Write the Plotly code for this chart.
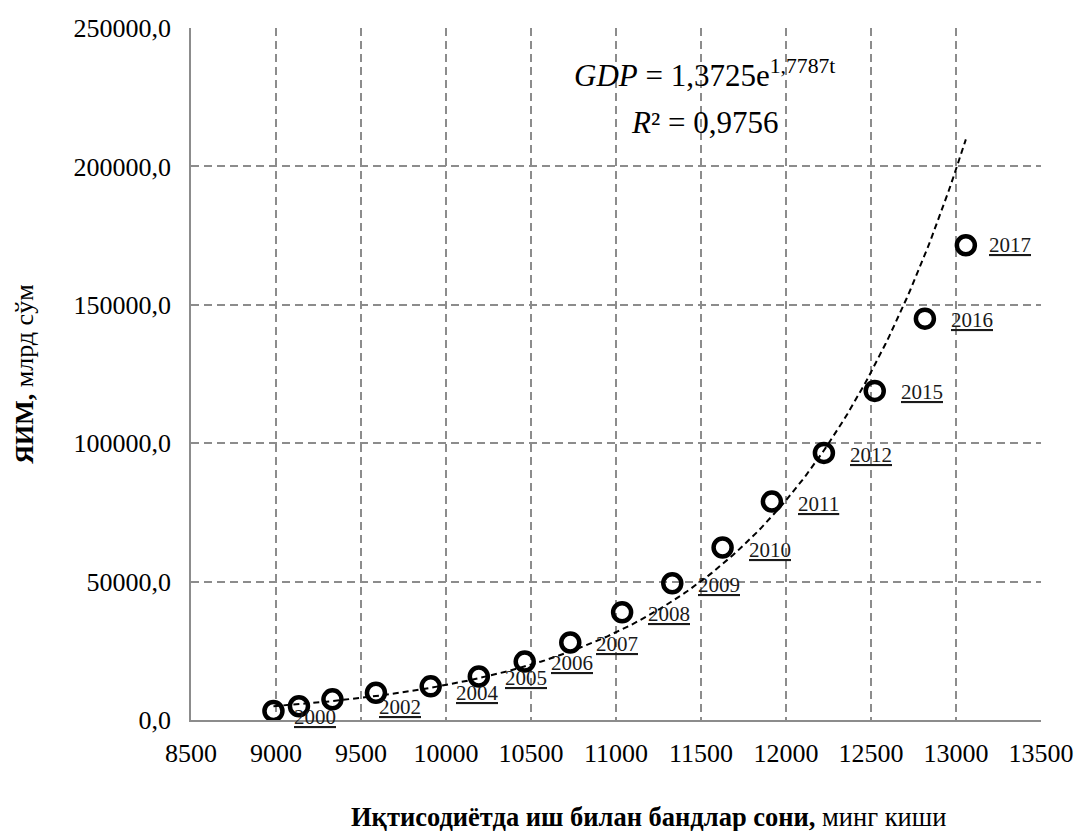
import numpy as np
import plotly.graph_objects as go

# Data
employment = [8985, 9135, 9332, 9588, 9910, 10193, 10463, 10731, 11036, 11331,
              11627, 11917, 12223, 12522, 12817, 13058]
gdp = [3256, 4950, 7460, 9850, 12150, 15700, 21100, 28000, 38950, 49380,
       62300, 78900, 96500, 118900, 145000, 171500]
point_labels = ["2000", "", "2002", "", "2004", "2005", "2006", "2007", "2008",
                "2009", "2010", "2011", "2012", "2015", "2016", "2017"]
x_ticks = [8500, 9000, 9500, 10000, 10500, 11000, 11500, 12000, 12500, 13000, 13500]
x_tick_text = ["8500", "9000", "9500", "10000", "10500", "11000", "11500",
               "12000", "12500", "13000", "13500"]
y_ticks = [0, 50000, 100000, 150000, 200000, 250000]
y_tick_text = ["0,0", "50000,0", "100000,0", "150000,0", "200000,0", "250000,0"]

# label placement (pixel offsets from the marker), styling only
label_dx = [42, 0, 68, 0, 47, 47, 47, 47, 47, 47, 47, 47, 47, 47, 47, 44]
label_dy = [-6, 0, -8, 0, -7, -1, -1, -1, -2, -2, -2, -2, -2, -1, -1, 0]

# Exponential trend (least squares on log scale, as in Excel)
b, a = np.polyfit(np.array(employment, float), np.log(np.array(gdp, float)), 1)
tx = np.linspace(min(employment), max(employment), 200)
ty = np.exp(a + b * tx)

FONT = "Liberation Serif"
GRID = "#8c8c8c"

fig = go.Figure()
fig.add_trace(go.Scatter(
    x=employment, y=gdp, mode="markers",
    marker=dict(symbol="circle-open", size=18, color="black", line=dict(width=4.5)),
    showlegend=False, hoverinfo="x+y"))
fig.add_trace(go.Scatter(
    x=tx, y=ty, mode="lines",
    line=dict(color="black", width=2, dash="6px,4px"),
    showlegend=False, hoverinfo="skip"))

annotations = []
for xv, yv, lab, dx, dy in zip(employment, gdp, point_labels, label_dx, label_dy):
    if not lab:
        continue
    annotations.append(dict(
        x=xv, y=yv, xref="x", yref="y", text="<u>" + lab + "</u>",
        showarrow=False, xanchor="center", yanchor="middle",
        xshift=dx, yshift=dy, font=dict(family=FONT, size=21, color="#1a1a1a")))

W, H = 1086, 831
L, R, T, B = 191, 36, 28, 111
pw, ph = W - L - R, H - T - B

page_texts = [
    (710, 73.5, "<i>GDP</i> = 1,3725e<sup>1,7787t</sup>", 31, 0),
    (710, 122, "<i>R</i>² = 0,9756", 31, 0),
    (653, 817, "<b>Иқтисодиётда иш билан бандлар сони,</b> минг киши", 26.5, 0),
    (22, 374, "<b>ЯИМ,</b> млрд сўм", 26, -90),
]
for xp, yp, txt, size, ang in page_texts:
    annotations.append(dict(
        x=(xp - L) / pw, y=1 - (yp - T) / ph, xref="paper", yref="paper",
        text=txt, textangle=ang, showarrow=False,
        xanchor="center", yanchor="middle",
        font=dict(family=FONT, size=size, color="black")))

fig.update_layout(
    width=W, height=H,
    margin=dict(l=L, r=R, t=T, b=B, pad=0),
    paper_bgcolor="white", plot_bgcolor="white",
    font=dict(family=FONT, size=26, color="black"),
    annotations=annotations,
    xaxis=dict(range=[8500, 13500], tickvals=x_ticks, ticktext=x_tick_text,
               showgrid=True, gridcolor=GRID, gridwidth=1.5, griddash="8px,5px",
               showline=True, linecolor=GRID, linewidth=1.5,
               zeroline=False, ticks="", ticklabelstandoff=9,
               tickfont=dict(family=FONT, size=26, color="black")),
    yaxis=dict(range=[0, 250000], tickvals=y_ticks, ticktext=y_tick_text,
               showgrid=True, gridcolor=GRID, gridwidth=1.5, griddash="8px,5px",
               showline=True, linecolor=GRID, linewidth=1.5,
               zeroline=False, ticks="", ticklabelstandoff=13,
               tickfont=dict(family=FONT, size=26, color="black")),
)

fig.write_html("out.html")
